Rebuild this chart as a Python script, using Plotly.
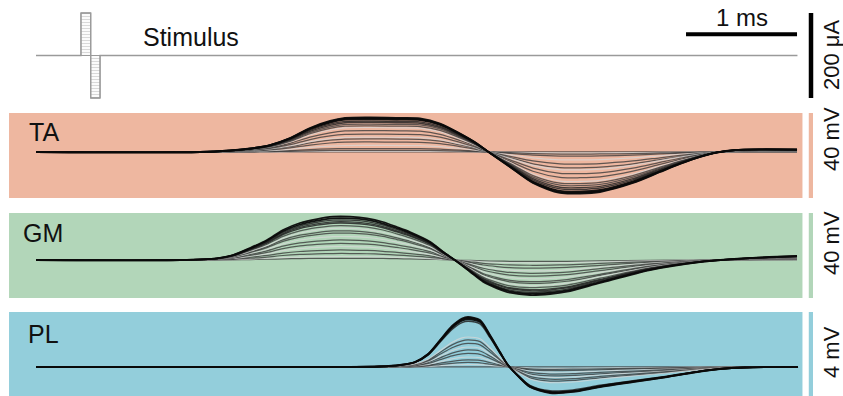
import plotly.graph_objects as go

# ---- stimulus (biphasic pulse), time in ms, current in uA ----
stim_t = [0.0, 0.405, 0.405, 0.493, 0.493, 0.577, 0.577, 6.86]
stim_i = [0, 0, 100, 100, -100, -100, 0, 0]
pulse_up_t = [0.405, 0.493, 0.493, 0.405, 0.405]
pulse_up_i = [0, 0, 100, 100, 0]
pulse_dn_t = [0.493, 0.577, 0.577, 0.493, 0.493]
pulse_dn_i = [0, 0, -100, -100, 0]

# ---- maximal evoked responses (mV) ----
ta_t = [0, 1.477, 1.748, 1.928, 2.108, 2.288, 2.468, 2.649, 2.784, 3.009, 3.279, 3.459,
        3.640, 3.820, 3.973, 4.090, 4.270, 4.477, 4.721, 4.901, 5.081, 5.378, 5.622,
        5.802, 5.982, 6.135, 6.297, 6.523, 6.856]
ta_v = [0, 0, 0.71, 1.65, 3.29, 6.59, 11.29, 14.59, 16.0, 16.24, 16.0, 15.76,
        13.41, 8.71, 4.0, -0.47, -7.06, -14.59, -19.29, -19.53, -18.82, -14.59, -9.41,
        -5.65, -2.35, -0.24, 0.94, 1.27, 1.18]

gm_t = [0, 1.297, 1.631, 1.775, 1.928, 2.081, 2.225, 2.378, 2.532, 2.676, 2.829, 2.982,
        3.126, 3.252, 3.369, 3.550, 3.667, 3.793, 3.910, 4.027, 4.153, 4.270, 4.450,
        4.631, 4.784, 5.081, 5.532, 5.982, 6.432, 6.856]
gm_v = [0, 0, 0.80, 2.35, 5.65, 9.41, 14.12, 17.41, 19.29, 20.38, 20.38, 19.62,
        17.88, 15.53, 13.18, 8.61, 3.91, -0.80, -5.51, -10.21, -13.32, -15.39, -16.47,
        -16.0, -14.92, -10.82, -4.71, -0.94, 0.94, 1.88]

pl_t = [0, 2.649, 3.099, 3.279, 3.414, 3.532, 3.640, 3.748, 3.838, 3.892, 4.0, 4.090,
        4.180, 4.252, 4.360, 4.450, 4.631, 4.838, 5.081, 5.378, 5.685, 5.982, 6.162,
        6.387, 6.865]
pl_v = [0, 0, 0.024, 0.094, 0.235, 0.612, 1.271, 1.929, 2.282, 2.353, 2.212, 1.506,
        0.706, 0.094, -0.518, -0.941, -1.224, -1.176, -0.941, -0.706, -0.471, -0.212,
        -0.094, -0.024, 0]

# ---- relative response size at each stimulus intensity (recruitment) ----
ta_amp = [0.0, 0.02, 0.05, 0.10, 0.19, 0.29, 0.38, 0.43, 0.52, 0.62, 0.71, 0.76,
          0.81, 0.86, 0.90, 0.95, 0.98, 1.0]
gm_amp = [0.04, 0.08, 0.15, 0.23, 0.31, 0.38, 0.46, 0.54, 0.62, 0.67, 0.73, 0.79,
          0.85, 0.88, 0.92, 0.96, 1.0]
pl_amp = [0.0, 0.05, 0.09, 0.14, 0.20, 0.27, 0.34, 0.40, 0.47, 0.54, 0.60,
          0.915, 0.955, 0.98, 1.0]

muscles = ["TA", "GM", "PL"]
scale_labels = ["40 mV", "40 mV", "4 mV"]
panel_colors = ["#EEB7A0", "#B2D6B9", "#93CEDB"]

FONT = "Liberation Sans, Arial, sans-serif"
H = 396.0


def py(p):
    """pixel row -> paper fraction"""
    return 1 - p / H


fig = go.Figure()

# stimulus trace with hatched pulse
for tt, ii in [(pulse_up_t, pulse_up_i), (pulse_dn_t, pulse_dn_i)]:
    fig.add_trace(go.Scatter(
        x=tt, y=ii, mode="lines", fill="toself", yaxis="y",
        line=dict(color="#9a9a9a", width=1),
        fillpattern=dict(shape="-", size=3, solidity=0.4, fgcolor="#b4b4b4", bgcolor="white"),
        hoverinfo="skip", showlegend=False))
fig.add_trace(go.Scatter(x=stim_t, y=stim_i, mode="lines", yaxis="y",
                         line=dict(color="#9a9a9a", width=1.3),
                         hoverinfo="skip", showlegend=False))

# scale bars for the stimulus row: 1 ms and 200 uA
fig.add_trace(go.Scatter(x=[5.856, 6.856], y=[50, 50], mode="lines", yaxis="y",
                         line=dict(color="black", width=4), hoverinfo="skip", showlegend=False))
fig.add_trace(go.Scatter(x=[6.982, 6.982], y=[-100, 100], mode="lines", yaxis="y",
                         line=dict(color="black", width=4.5), hoverinfo="skip", showlegend=False))


def trace_style(frac, idx):
    if frac >= 0.95:
        return "rgba(10,10,10,0.95)", 1.8
    if frac >= 0.85:
        return "rgba(35,35,35,0.85)", 1.4
    if idx % 3 == 1:
        return "rgba(215,215,215,0.75)", 1.2
    return "rgba(60,60,60,0.8)", 1.25


series = [(ta_t, ta_v, ta_amp), (gm_t, gm_v, gm_amp), (pl_t, pl_v, pl_amp)]
for k, (tt, vv, amps) in enumerate(series):
    ax = "y%d" % (k + 2)
    for j, a in enumerate(amps):
        col, w = trace_style(a, j)
        fig.add_trace(go.Scatter(
            x=tt, y=[a * v for v in vv], mode="lines", yaxis=ax,
            line=dict(color=col, width=w, shape="spline", smoothing=0.8),
            hoverinfo="skip", showlegend=False))

# axes: one shared time axis, a separate vertical axis per row
xr = [-36 / 111, (843 - 36) / 111]
layout_axes = dict(
    xaxis=dict(domain=[0, 1], range=xr, visible=False, fixedrange=True),
    yaxis=dict(domain=[py(105), 1], range=[-116.5, 130.6], visible=False),
    yaxis2=dict(domain=[py(198), py(113)], range=[-21.65, 18.35], visible=False),
    yaxis3=dict(domain=[py(298), py(213)], range=[-17.88, 22.12], visible=False),
    yaxis4=dict(domain=[0, py(312)], range=[-1.365, 2.588], visible=False),
)

shapes = []
annotations = []
label_px = [(27, 132), (21, 233), (26, 334)]
scale_py = [139, 243, 352]
for k in range(3):
    yref = "y%d" % (k + 2)
    # panel background
    shapes.append(dict(type="rect", xref="x", yref=yref + " domain",
                       x0=-0.243, x1=6.905, y0=0, y1=1,
                       fillcolor=panel_colors[k], line=dict(width=0), layer="below"))
    # coloured amplitude scale bar beside the panel
    shapes.append(dict(type="rect", xref="x", yref=yref + " domain",
                       x0=6.962, x1=7.0, y0=0, y1=1,
                       fillcolor=panel_colors[k], line=dict(width=0), layer="below"))
    annotations.append(dict(x=(label_px[k][0] - 36) / 111, y=py(label_px[k][1]),
                            xref="x", yref="paper",
                            text=muscles[k], showarrow=False, xanchor="left", yanchor="middle",
                            font=dict(family=FONT, size=25, color="#111")))
    annotations.append(dict(x=(831 - 36) / 111, y=py(scale_py[k]), xref="x", yref="paper",
                            text=scale_labels[k], showarrow=False, textangle=-90,
                            xanchor="center", yanchor="middle",
                            font=dict(family=FONT, size=22, color="#111")))

annotations.append(dict(x=(141 - 36) / 111, y=py(37), xref="x", yref="paper", text="Stimulus",
                        showarrow=False, xanchor="left", yanchor="middle",
                        font=dict(family=FONT, size=25, color="#111")))
annotations.append(dict(x=6.356, y=py(18), xref="x", yref="paper", text="1 ms",
                        showarrow=False, xanchor="center", yanchor="middle",
                        font=dict(family=FONT, size=24, color="#111")))
annotations.append(dict(x=(832 - 36) / 111, y=py(55), xref="x", yref="paper", text="200 μA",
                        showarrow=False, textangle=-90, xanchor="center", yanchor="middle",
                        font=dict(family=FONT, size=22, color="#111")))

fig.update_layout(
    width=843, height=396,
    margin=dict(l=0, r=0, t=0, b=0),
    paper_bgcolor="white", plot_bgcolor="white",
    showlegend=False,
    shapes=shapes, annotations=annotations,
    **layout_axes,
)

fig.write_html("out.html", config={"displayModeBar": False})
